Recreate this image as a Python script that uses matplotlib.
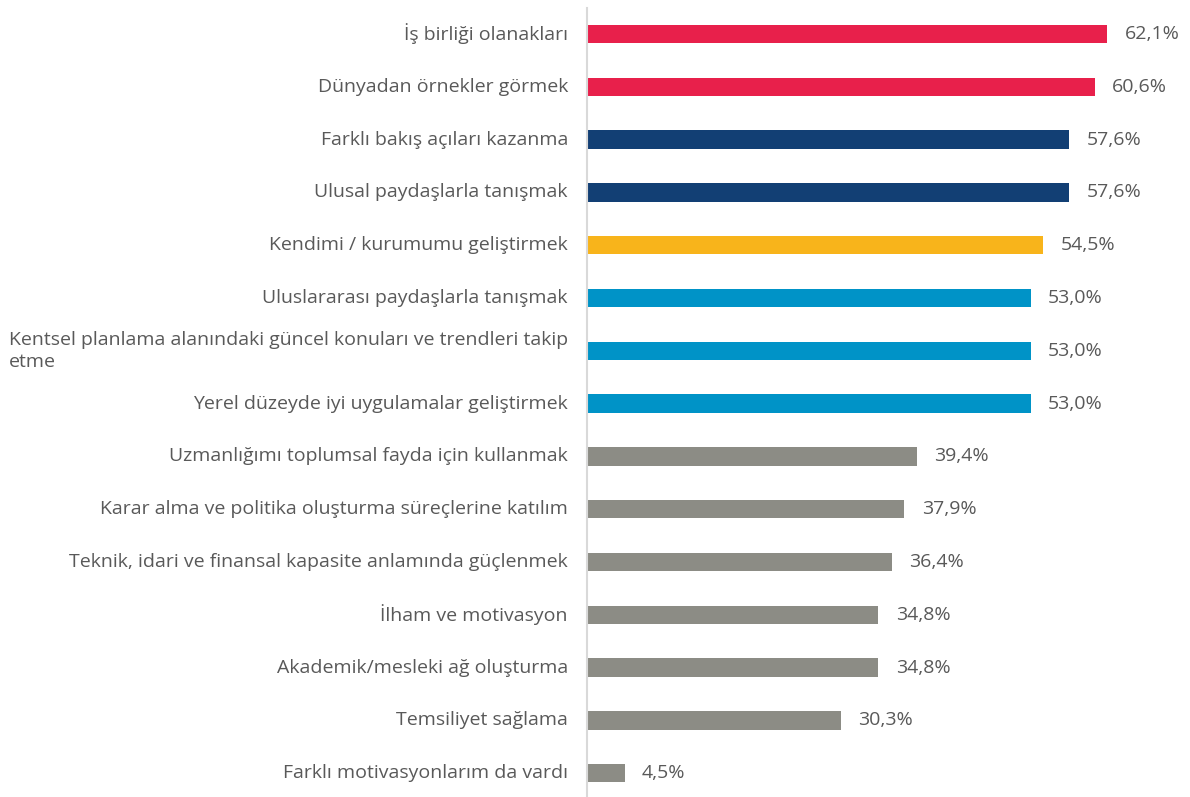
"""Horizontal bar chart of participation motivations."""

import matplotlib

matplotlib.use("Agg")
import matplotlib.pyplot as plt
from matplotlib.transforms import blended_transform_factory, offset_copy

labels = [
    "İş birliği olanakları",
    "Dünyadan örnekler görmek",
    "Farklı bakış açıları kazanma",
    "Ulusal paydaşlarla tanışmak",
    "Kendimi / kurumumu geliştirmek",
    "Uluslararası paydaşlarla tanışmak",
    "Kentsel planlama alanındaki güncel konuları ve trendleri takip\netme",
    "Yerel düzeyde iyi uygulamalar geliştirmek",
    "Uzmanlığımı toplumsal fayda için kullanmak",
    "Karar alma ve politika oluşturma süreçlerine katılım",
    "Teknik, idari ve finansal kapasite anlamında güçlenmek",
    "İlham ve motivasyon",
    "Akademik/mesleki ağ oluşturma",
    "Temsiliyet sağlama",
    "Farklı motivasyonlarım da vardı",
]
values = [62.1, 60.6, 57.6, 57.6, 54.5, 53.0, 53.0, 53.0,
          39.4, 37.9, 36.4, 34.8, 34.8, 30.3, 4.5]
groups = ["red", "red", "navy", "navy", "yellow", "blue", "blue", "blue",
          "gray", "gray", "gray", "gray", "gray", "gray", "gray"]

PALETTE = {
    "red": "#E8204B",
    "navy": "#123F74",
    "yellow": "#F8B41B",
    "blue": "#0093C7",
    "gray": "#8C8C85",
}
TEXT = "#595959"

plt.rcParams["font.family"] = ["Open Sans", "DejaVu Sans"]

fig = plt.figure(figsize=(11.9, 7.97), dpi=100)
ax = fig.add_axes([587 / 1190, 0, 603 / 1190, 1 - 7.6 / 797])

ypos = list(range(len(labels)))
ax.barh(ypos, values, height=0.35, color=[PALETTE[g] for g in groups])
ax.set_xlim(0, 72)
ax.set_ylim(14.45, -0.5)

for y, v in zip(ypos, values):
    ax.annotate(f"{v:.1f}".replace(".", ",") + "%", (v, y),
                xytext=(12.5, 0), textcoords="offset points",
                ha="left", va="center", fontsize=14, color=TEXT)

trans = offset_copy(blended_transform_factory(ax.transAxes, ax.transData),
                    fig=fig, x=-19, y=0, units="dots")
for y, lab in zip(ypos, labels):
    ax.text(0, y, lab, transform=trans, ha="right", va="center",
            multialignment="left", fontsize=14, color=TEXT,
            linespacing=1.3)

for side in ["top", "right", "bottom"]:
    ax.spines[side].set_visible(False)
ax.spines["left"].set_color("#D9D9D9")
ax.spines["left"].set_linewidth(1.5)
ax.set_xticks([])
ax.set_yticks([])

fig.savefig("out.png", dpi=100)
